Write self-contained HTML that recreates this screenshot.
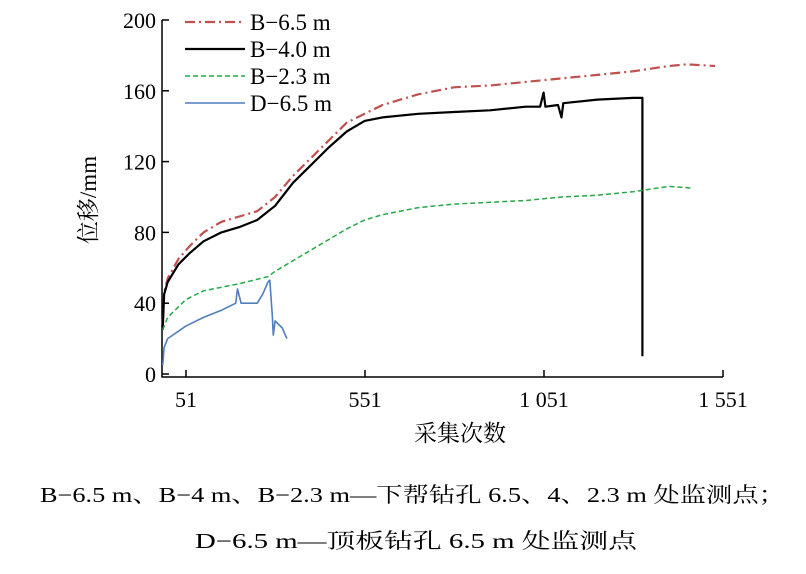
<!DOCTYPE html>
<html><head><meta charset="utf-8"><style>
body{margin:0;background:#fff;}
svg text{font-family:"Liberation Serif","Noto Serif CJK SC",serif;}
</style></head><body>
<svg id="c" width="806" height="569" xmlns="http://www.w3.org/2000/svg">
<g id="plot"></g>
<text transform="translate(96,200) rotate(-90)" text-anchor="middle" font-size="23">位移/mm</text>
<text x="460" y="441" text-anchor="middle" font-size="23">采集次数</text>
<text x="40" y="502" font-size="21" textLength="745" lengthAdjust="spacingAndGlyphs">B−6.5 m、B−4 m、B−2.3 m—下帮钻孔 6.5、4、2.3 m 处监测点；</text>
<text x="195" y="548" font-size="21" textLength="442" lengthAdjust="spacingAndGlyphs">D−6.5 m—顶板钻孔 6.5 m 处监测点</text>
</svg>
<script>
const xTicks=[51,551,1051,1551];
const xTickLabels=["51","551","1 051","1 551"];
const yTicks=[0,40,80,120,160,200];
const seriesNames=["B−6.5 m","B−4.0 m","B−2.3 m","D−6.5 m"];
const b65=[[-14,28],[-10,46],[0,54],[30,65],[60,72],[100,80],[150,86],[200,89],[250,92],[300,100],[350,112],[400,122],[450,132],[500,142],[550,147],[600,152],[700,158],[750,160],[800,162],[900,163],[950,164],[1000,165],[1100,167],[1200,169],[1300,171],[1400,174],[1450,175],[1529,174]];
const b40=[[-14,25],[-10,45],[0,52],[30,62],[60,68],[100,75],[150,80],[200,83],[250,87],[300,95],[350,108],[400,118],[450,128],[500,137],[550,143],[600,145],[700,147],[800,148],[900,149],[1000,151],[1040,151],[1050,159],[1055,151],[1090,152],[1100,145],[1105,153],[1200,155],[1300,156],[1326,156],[1326,10]];
const b23=[[-14,25],[0,32],[50,42],[100,47],[200,51],[280,55],[300,58],[400,70],[500,82],[550,87],[600,90],[700,94],[800,96],[900,97],[1000,98],[1100,100],[1200,101],[1300,103],[1400,106],[1468,105]];
const d65=[[-14,5],[-10,15],[0,20],[50,27],[100,32],[150,36],[190,40],[195,48],[205,40],[250,40],[265,45],[280,52],[285,53],[292,33],[295,22],[300,30],[320,26],[333,20]];
const X0=-16,X1=1551,PX0=162,PX1=723;
const Y0=0,Y1=200,PY0=374,PY1=20;
const sx=v=>PX0+(v-X0)/(X1-X0)*(PX1-PX0);
const sy=v=>PY0-(v-Y0)/(Y1-Y0)*(PY0-PY1);
const NS="http://www.w3.org/2000/svg";
const g=document.getElementById('plot');
function mk(t,a){const e=document.createElementNS(NS,t);for(const k in a)e.setAttribute(k,a[k]);g.appendChild(e);return e;}
let ax=mk('path',{d:`M${PX0},${PY1} V377 H${PX1}`,fill:'none',stroke:'#000','stroke-width':1.5});


yTicks.forEach(v=>{
 const t=mk('line',{x1:PX0,x2:PX0+7,y1:sy(v),y2:sy(v),stroke:'#000','stroke-width':1.5});
 
 
 const l=mk('text',{x:PX0-6,y:sy(v)+8,'text-anchor':'end','font-size':22});
 l.textContent=v;
 
 
});
xTicks.forEach((v,i)=>{
 const t=mk('line',{x1:sx(v),x2:sx(v),y1:377,y2:370,stroke:'#000','stroke-width':1.5});
 
 
 const l=mk('text',{x:sx(v),y:407,'text-anchor':'middle','font-size':22});
 l.textContent=xTickLabels[i];
 
 
});
const styles=[{c:'#c0504d',w:2.2,d:'10,4,2,4'},{c:'#000',w:2.2,d:''},{c:'#22aa44',w:1.5,d:'5,3'},{c:'#4f7fbf',w:1.6,d:''}];
[b65,b40,b23,d65].forEach((s,i)=>{
 const p=mk('path',{d:'M'+s.map(q=>sx(q[0]).toFixed(1)+','+sy(q[1]).toFixed(1)).join(' L'),fill:'none',stroke:styles[i].c,'stroke-width':styles[i].w,'stroke-dasharray':styles[i].d,'stroke-linejoin':'round'});
 
 
 const y=22+i*27;
 const ll=mk('line',{x1:185,x2:245,y1:y,y2:y,stroke:styles[i].c,'stroke-width':styles[i].w,'stroke-dasharray':styles[i].d});
 
 
 const lt=mk('text',{x:250,y:y+8,'font-size':23});
 lt.textContent=seriesNames[i];
 
 
});
</script>
</body></html>
